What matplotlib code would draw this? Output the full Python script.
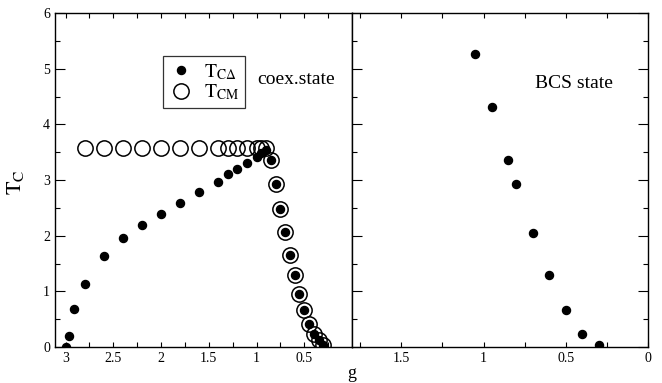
import numpy as np
import matplotlib
matplotlib.use("Agg")
import matplotlib.pyplot as plt

plt.rcParams['font.family'] = ['Liberation Serif', 'DejaVu Serif']
plt.rcParams['mathtext.fontset'] = 'stix'

# coexistence state, T_C(Delta) (filled) and T_C(M) (open)
g_delta = [3.0, 2.96, 2.91, 2.8, 2.6, 2.4, 2.2, 2.0, 1.8, 1.6, 1.4, 1.3, 1.2, 1.1,
           1.0, 0.95, 0.9, 0.85, 0.8, 0.75, 0.7, 0.65, 0.6, 0.55, 0.5, 0.45, 0.4, 0.35, 0.3]
tc_delta = [0.0, 0.2, 0.68, 1.13, 1.63, 1.95, 2.19, 2.39, 2.59, 2.78, 2.97, 3.10, 3.20, 3.31,
            3.42, 3.49, 3.54, 3.36, 2.92, 2.48, 2.06, 1.65, 1.29, 0.95, 0.66, 0.42, 0.24, 0.12, 0.04]
g_m = [2.8, 2.6, 2.4, 2.2, 2.0, 1.8, 1.6, 1.4, 1.3, 1.2, 1.1, 1.0, 0.95, 0.9,
       0.85, 0.8, 0.75, 0.7, 0.65, 0.6, 0.55, 0.5, 0.45, 0.4, 0.35, 0.3]
tc_m = [3.57, 3.57, 3.57, 3.57, 3.57, 3.57, 3.57, 3.57, 3.57, 3.57, 3.57, 3.57, 3.57, 3.57,
        3.36, 2.92, 2.48, 2.06, 1.65, 1.29, 0.95, 0.66, 0.42, 0.24, 0.12, 0.04]

# BCS state
g_bcs = [1.05, 0.95, 0.85, 0.8, 0.7, 0.6, 0.5, 0.4, 0.3]
tc_bcs = [5.26, 4.32, 3.36, 2.93, 2.05, 1.29, 0.66, 0.24, 0.04]

fig = plt.figure(figsize=(6.62, 3.83), dpi=100)
ax1 = fig.add_axes([55/662, 36/383, 297/662, 334/383])
ax2 = fig.add_axes([352/662, 36/383, 296/662, 334/383])

ax1.plot(g_delta, tc_delta, 'o', color='black', ms=5.8, ls='none', label=r'$\mathrm{T}_{\mathrm{C}\Delta}$')
ax1.plot(g_m, tc_m, 'o', mfc='none', mec='black', mew=1.1, ms=11, ls='none', zorder=3,
         label=r'$\mathrm{T}_{\mathrm{CM}}$')
ax2.plot(g_bcs, tc_bcs, 'o', color='black', ms=5.8, ls='none')

ax1.set_xlim(3.11, 0)
ax2.set_xlim(1.8, 0)
for ax in (ax1, ax2):
    ax.set_ylim(0, 6)
    ax.set_yticks(np.arange(0, 7, 1))
    ax.set_yticks(np.arange(0.5, 6, 1), minor=True)
    for s in ax.spines.values():
        s.set_linewidth(1.0)
    ax.tick_params(axis='x', which='both', direction='in', top=True, length=3.5, width=0.8, labelsize=10)
    ax.tick_params(axis='y', which='major', direction='in', length=7, width=0.8, labelsize=10)
    ax.tick_params(axis='y', which='minor', direction='in', length=3.5, width=0.8)

ax1.set_xticks([3, 2.5, 2, 1.5, 1, 0.5])
ax1.set_xticklabels(['3', '2.5', '2', '1.5', '1', '0.5'])
ax1.set_xticks([2.75, 2.25, 1.75, 1.25, 0.75, 0.25], minor=True)
ax1.set_yticklabels(['0', '1', '2', '3', '4', '5', '6'])
ax1.tick_params(axis='y', which='both', right=False)

ax2.set_xticks([1.5, 1, 0.5, 0])
ax2.set_xticklabels(['1.5', '1', '0.5', '0'])
ax2.set_xticks([1.75, 1.25, 0.75, 0.25], minor=True)
ax2.tick_params(axis='y', which='both', left=True, right=True, labelleft=False)

leg = ax1.legend(loc='upper left', bbox_to_anchor=(0.364, 0.871), frameon=True, fancybox=False,
                 edgecolor='black', fontsize=14, handletextpad=0.6, borderpad=0.3,
                 labelspacing=0.05, handlelength=1.2, borderaxespad=0)
leg.get_frame().set_linewidth(0.9)

ax1.text(0.68, 0.80, 'coex.state', transform=ax1.transAxes, fontsize=14, va='center', ha='left')
ax2.text(0.618, 0.79, 'BCS state', transform=ax2.transAxes, fontsize=14, va='center', ha='left')

fig.text(15/662, 1 - 182/383, r'$\mathrm{T}_{\mathrm{C}}$', rotation=90, fontsize=16, ha='center', va='center')
fig.text(352/662, 1 - 374/383, 'g', fontsize=13, ha='center', va='center')

fig.savefig('out.png', dpi=100)
